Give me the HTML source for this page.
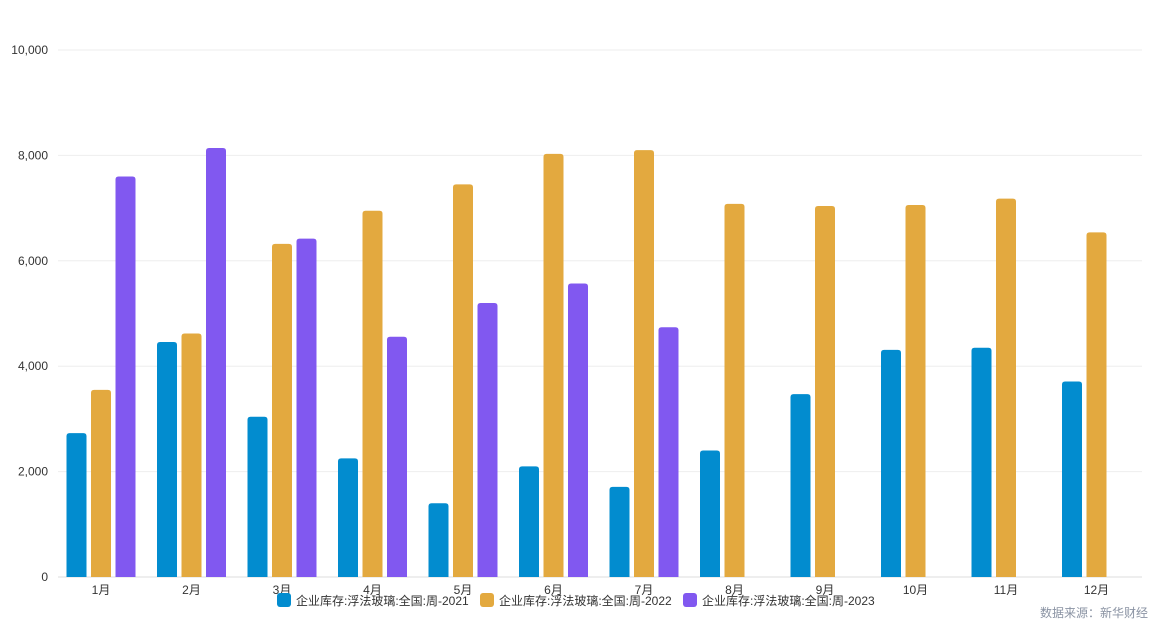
<!DOCTYPE html>
<html><head><meta charset="utf-8"><style>
html,body{margin:0;padding:0;background:#fff;}
svg{display:block;font-family:"Liberation Sans","Noto Sans CJK SC",sans-serif;}
</style></head><body>
<svg id="c" width="1152" height="623" xmlns="http://www.w3.org/2000/svg">
<g id="grid"></g><g id="bars"></g><g id="labels"></g>
<rect x="277" y="593" width="14" height="14" rx="3" fill="#028ccf"/>
<text x="296" y="605" font-size="12" fill="#333">企业库存:浮法玻璃:全国:周-2021</text>
<rect x="480" y="593" width="14" height="14" rx="3" fill="#e3a93f"/>
<text x="499" y="605" font-size="12" fill="#333">企业库存:浮法玻璃:全国:周-2022</text>
<rect x="683" y="593" width="14" height="14" rx="3" fill="#8158f0"/>
<text x="702" y="605" font-size="12" fill="#333">企业库存:浮法玻璃:全国:周-2023</text>
<text x="1148" y="617" font-size="12" fill="#8a93a3" text-anchor="end">数据来源：新华财经</text>
</svg>
<script>
var ns="http://www.w3.org/2000/svg";
function el(p,t,a,txt){var e=document.createElementNS(ns,t);for(var k in a)e.setAttribute(k,a[k]);if(txt)e.textContent=txt;document.getElementById(p).appendChild(e);}
var y0=577,k=0.0527;
for(var i=0;i<=5;i++){var y=y0-i*2000*k;
el("grid","line",{x1:58,x2:1142,y1:y,y2:y,stroke:i==0?"#ddd":"#eee","stroke-width":1});
el("grid","text",{x:48,y:y+4,"font-size":12,fill:"#333","text-anchor":"end"},i==0?"0":(i*2).toString()+",000");}
var d=[[2730,3550,7600],[4460,4620,8140],[3040,6320,6420],[2250,6950,4560],[1400,7450,5200],[2100,8030,5570],[1710,8100,4740],[2400,7080],[3470,7040],[4310,7060],[4350,7180],[3710,6540]];
var col=["#028ccf","#e3a93f","#8158f0"];
for(var c=0;c<12;c++){var cx=101+c*90.5;
el("labels","text",{x:cx,y:594,"font-size":12,fill:"#333","text-anchor":"middle"},(c+1)+"月");
for(var s=0;s<d[c].length;s++){var v=d[c][s],h=v*k,x=cx+(s-1)*24.5-10;
el("bars","path",{d:"M"+x+","+y0+"V"+(y0-h+3)+"Q"+x+","+(y0-h)+" "+(x+3)+","+(y0-h)+"H"+(x+17)+"Q"+(x+20)+","+(y0-h)+" "+(x+20)+","+(y0-h+3)+"V"+y0+"Z",fill:col[s]});}}
</script>
</body></html>
